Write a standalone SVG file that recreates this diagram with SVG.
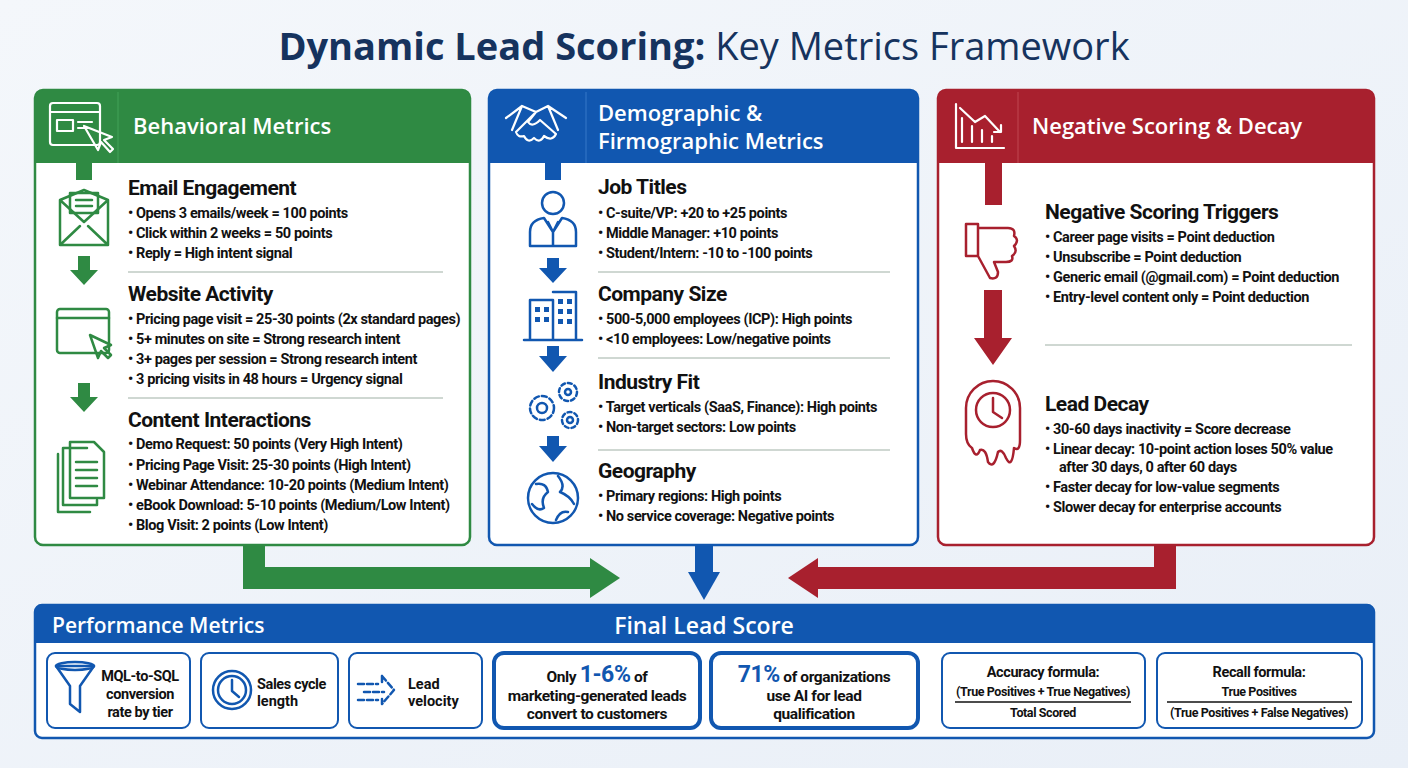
<svg xmlns="http://www.w3.org/2000/svg" width="1408" height="768" viewBox="0 0 1408 768">
<defs>
<linearGradient id="bg" x1="0" y1="0" x2="1" y2="1"><stop offset="0" stop-color="#f4f7fb"/><stop offset="1" stop-color="#e9eff7"/></linearGradient>
<style>
text{font-family:"Roboto","Liberation Sans",sans-serif;font-weight:bold;fill:#111}
.h{font-size:21px;letter-spacing:-0.5px}
.b{font-size:14.5px;letter-spacing:-0.4px}
.ph{font-family:"Open Sans","Liberation Sans",sans-serif;font-size:22px;fill:#fff;font-weight:600;letter-spacing:0}
.sep{stroke:#9fb0a5;stroke-width:1}
.gi{fill:none;stroke:#2f8a43;stroke-width:2.5;stroke-linejoin:round;stroke-linecap:round}
.bi{fill:none;stroke:#1157b0;stroke-width:2.5;stroke-linejoin:round;stroke-linecap:round}
.ri{fill:none;stroke:#a8202e;stroke-width:2.5;stroke-linejoin:round;stroke-linecap:round}
.wi{fill:none;stroke:#fff;stroke-width:2.2;stroke-linejoin:round;stroke-linecap:round}
.box{fill:#fff;stroke:#1157b0;stroke-width:2}
.tbox{fill:#fff;stroke:#1157b0;stroke-width:4}
.s{font-size:14.5px;text-anchor:middle;letter-spacing:-0.4px}
.f{font-size:12.5px;text-anchor:middle;letter-spacing:-0.4px}
</style>
</defs>
<rect width="1408" height="768" fill="url(#bg)"/>
<text x="704" y="60" text-anchor="middle" style="font-family:'Open Sans','Liberation Sans',sans-serif;font-size:38px;fill:#16335e"><tspan font-weight="bold">Dynamic Lead Scoring:</tspan><tspan font-weight="normal"> Key Metrics Framework</tspan></text>

<g id="connectors">
<path d="M254 545 V578 H592" fill="none" stroke="#2f8a43" stroke-width="22"/>
<polygon points="590,558 620,578 590,598" fill="#2f8a43"/>
<path d="M704 545 V575" fill="none" stroke="#1157b0" stroke-width="18"/>
<polygon points="688,572 720,572 704,600" fill="#1157b0"/>
<path d="M1165 545 V578 H816" fill="none" stroke="#a8202e" stroke-width="22"/>
<polygon points="818,558 788,578 818,598" fill="#a8202e"/>
</g>

<g id="behavioral">
<rect x="35" y="90" width="435" height="455" rx="8" fill="#fff" stroke="#2f8a43" stroke-width="2.5"/>
<path d="M35 98 a8 8 0 0 1 8 -8 H462 a8 8 0 0 1 8 8 V163 H35 Z" fill="#2f8a43"/>
<line x1="118" y1="92" x2="118" y2="163" stroke="#3c9a50" stroke-width="1.5"/>
<rect x="50" y="103" width="50" height="42" rx="3" class="wi"/><line x1="50" y1="112" x2="100" y2="112" class="wi"/>
<rect x="57" y="120" width="16" height="11" class="wi"/><line x1="78" y1="122" x2="92" y2="122" class="wi"/><line x1="78" y1="128" x2="88" y2="128" class="wi"/>
<path d="M84 126 L98 150 L101 142 L110 152 L113 149 L104 140 L112 137 Z" fill="#2f8a43" class="wi"/>
<text x="133" y="134" class="ph">Behavioral Metrics</text>
<rect x="76" y="163" width="16" height="17" fill="#2f8a43"/>
<path d="M60 200 L84 190 L108 200 V245 H60 Z M60 200 L84 222 L108 200 M60 245 L80 226 M108 245 L88 226" class="gi"/>
<rect x="70" y="193" width="28" height="20" fill="#fff" class="gi"/><line x1="76" y1="200" x2="92" y2="200" class="gi"/><line x1="76" y1="206" x2="92" y2="206" class="gi"/>
<path d="M78 256 H90 V270 H98 L84 285 L70 270 H78 Z" fill="#2f8a43"/>
<rect x="57" y="309" width="52" height="44" rx="3" class="gi"/><line x1="57" y1="318" x2="109" y2="318" class="gi"/>
<path d="M90 335 L98 358 L101 351 L108 358 L111 355 L104 348 L111 345 Z" fill="#fff" class="gi"/>
<path d="M78 383 H90 V397 H98 L84 412 L70 397 H78 Z" fill="#2f8a43"/>
<path d="M70 442 H94 L104 452 V498 H70 Z" fill="#fff" class="gi"/><path d="M63 448 H87 M63 448 V505 H97 V500" class="gi"/>
<path d="M58 454 V512 H90" class="gi"/>
<line x1="76" y1="462" x2="97" y2="462" class="gi"/><line x1="76" y1="470" x2="97" y2="470" class="gi"/><line x1="76" y1="478" x2="97" y2="478" class="gi"/><line x1="76" y1="486" x2="97" y2="486" class="gi"/>
<text x="128" y="195" class="h">Email Engagement</text>
<text x="128" y="218" class="b">•  Opens 3 emails/week = 100 points</text>
<text x="128" y="238" class="b">•  Click within 2 weeks = 50 points</text>
<text x="128" y="258" class="b">•  Reply = High intent signal</text>
<line x1="128" y1="272" x2="443" y2="272" class="sep"/>
<text x="128" y="301" class="h">Website Activity</text>
<text x="128" y="324" class="b">•  Pricing page visit = 25-30 points (2x standard pages)</text>
<text x="128" y="344" class="b">•  5+ minutes on site = Strong research intent</text>
<text x="128" y="364" class="b">•  3+ pages per session = Strong research intent</text>
<text x="128" y="384" class="b">•  3 pricing visits in 48 hours = Urgency signal</text>
<line x1="128" y1="398" x2="443" y2="398" class="sep"/>
<text x="128" y="427" class="h">Content Interactions</text>
<text x="128" y="449" class="b">•  Demo Request: 50 points (Very High Intent)</text>
<text x="128" y="470" class="b">•  Pricing Page Visit: 25-30 points (High Intent)</text>
<text x="128" y="490" class="b">•  Webinar Attendance: 10-20 points (Medium Intent)</text>
<text x="128" y="510" class="b">•  eBook Download: 5-10 points (Medium/Low Intent)</text>
<text x="128" y="530" class="b">•  Blog Visit: 2 points (Low Intent)</text>
</g>

<g id="demographic">
<rect x="489" y="90" width="429" height="455" rx="8" fill="#fff" stroke="#1157b0" stroke-width="2.5"/>
<path d="M489 98 a8 8 0 0 1 8 -8 H910 a8 8 0 0 1 8 8 V163 H489 Z" fill="#1157b0"/>
<line x1="586" y1="92" x2="586" y2="163" stroke="#2a6cc0" stroke-width="1.5"/>
<path d="M506 118 L522 106 L536 112 L548 106 L566 118 M522 106 L512 130 M548 106 L558 130 M536 112 L528 122 Q532 128 540 120 L556 134 Q552 142 544 136 Q540 144 534 138 Q528 144 524 136 Q518 138 516 132 Z" class="wi"/>
<text x="598" y="121" class="ph">Demographic &amp;</text>
<text x="598" y="149" class="ph">Firmographic Metrics</text>
<rect x="545" y="163" width="16" height="17" fill="#1157b0"/>
<circle cx="553" cy="203" r="11" class="bi"/><path d="M530 246 V232 Q530 220 544 218 L553 232 L562 218 Q576 220 576 232 V246 Z M553 232 V246 M548 222 L553 232 L558 222" class="bi"/>
<path d="M547 258 H559 V268 H567 L553 283 L539 268 H547 Z" fill="#1157b0"/>
<path d="M530 340 V300 H553 V340 M553 292 H576 V340 M524 340 H582" class="bi"/>
<g fill="#1157b0"><rect x="535" y="307" width="5" height="5"/><rect x="544" y="307" width="5" height="5"/><rect x="535" y="317" width="5" height="5"/><rect x="544" y="317" width="5" height="5"/><rect x="558" y="299" width="5" height="5"/><rect x="567" y="299" width="5" height="5"/><rect x="558" y="309" width="5" height="5"/><rect x="567" y="309" width="5" height="5"/><rect x="558" y="319" width="5" height="5"/><rect x="567" y="319" width="5" height="5"/></g>
<path d="M547 346 H559 V356 H567 L553 372 L539 356 H547 Z" fill="#1157b0"/>
<circle cx="542" cy="408" r="12" class="bi" stroke-dasharray="5 3"/><circle cx="542" cy="408" r="5" class="bi"/>
<circle cx="568" cy="392" r="9" class="bi" stroke-dasharray="4 3"/><circle cx="568" cy="392" r="3" class="bi"/>
<circle cx="570" cy="420" r="8" class="bi" stroke-dasharray="4 3"/><circle cx="570" cy="420" r="3" class="bi"/>
<path d="M547 436 H559 V446 H567 L553 462 L539 446 H547 Z" fill="#1157b0"/>
<circle cx="553" cy="498" r="25" class="bi"/><path d="M536 484 Q546 482 548 492 Q540 498 544 508 Q538 512 532 504 M558 476 Q566 486 560 492 Q570 496 574 504 M556 520 Q560 510 568 512" class="bi"/>
<text x="598" y="194" class="h">Job Titles</text>
<text x="598" y="218" class="b">•  C-suite/VP: +20 to +25 points</text>
<text x="598" y="238" class="b">•  Middle Manager: +10 points</text>
<text x="598" y="258" class="b">•  Student/Intern: -10 to -100 points</text>
<line x1="598" y1="272" x2="890" y2="272" class="sep"/>
<text x="598" y="301" class="h">Company Size</text>
<text x="598" y="324" class="b">•  500-5,000 employees (ICP): High points</text>
<text x="598" y="344" class="b">•  &lt;10 employees: Low/negative points</text>
<line x1="598" y1="358" x2="890" y2="358" class="sep"/>
<text x="598" y="389" class="h">Industry Fit</text>
<text x="598" y="412" class="b">•  Target verticals (SaaS, Finance): High points</text>
<text x="598" y="432" class="b">•  Non-target sectors: Low points</text>
<line x1="598" y1="450" x2="890" y2="450" class="sep"/>
<text x="598" y="478" class="h">Geography</text>
<text x="598" y="501" class="b">•  Primary regions: High points</text>
<text x="598" y="521" class="b">•  No service coverage: Negative points</text>
</g>

<g id="negative">
<rect x="938" y="90" width="436" height="455" rx="8" fill="#fff" stroke="#a8202e" stroke-width="2.5"/>
<path d="M938 98 a8 8 0 0 1 8 -8 H1366 a8 8 0 0 1 8 8 V163 H938 Z" fill="#a8202e"/>
<line x1="1018" y1="92" x2="1018" y2="163" stroke="#b83a46" stroke-width="1.5"/>
<path d="M956 104 V148 H1004 M962 118 V142 M972 126 V142 M982 130 V142 M992 136 V142 M960 108 L975 122 L985 116 L1000 132 M994 132 H1001 V125" class="wi"/>
<text x="1032" y="134" class="ph">Negative Scoring &amp; Decay</text>
<rect x="985" y="163" width="17" height="42" fill="#a8202e"/>
<path d="M966 224 H978 V256 H966 Z M978 228 H1008 Q1016 228 1014 236 Q1020 240 1014 246 Q1018 252 1012 256 Q1014 262 1006 262 H994 L998 272 Q998 280 990 278 L978 256" class="ri"/>
<path d="M984 290 H1002 V338 H1012 L993 365 L974 338 H984 Z" fill="#a8202e"/>
<path d="M966 408 A27 27 0 0 1 1020 408 V440 Q1020 452 1014 448 Q1012 470 1006 458 Q1002 448 998 452 Q994 470 988 462 Q986 448 980 450 Q976 460 972 448 Q966 444 966 434 Z" class="ri"/>
<circle cx="993" cy="410" r="17" class="ri"/><path d="M993 398 V412 L1002 418" class="ri"/>
<text x="1045" y="219" class="h">Negative Scoring Triggers</text>
<text x="1045" y="242" class="b">•  Career page visits = Point deduction</text>
<text x="1045" y="262" class="b">•  Unsubscribe = Point deduction</text>
<text x="1045" y="282" class="b">•  Generic email (@gmail.com) = Point deduction</text>
<text x="1045" y="302" class="b">•  Entry-level content only = Point deduction</text>
<line x1="1045" y1="345" x2="1352" y2="345" class="sep"/>
<text x="1045" y="411" class="h">Lead Decay</text>
<text x="1045" y="434" class="b">•  30-60 days inactivity = Score decrease</text>
<text x="1045" y="454" class="b">•  Linear decay: 10-point action loses 50% value</text>
<text x="1059" y="472" class="b">after 30 days, 0 after 60 days</text>
<text x="1045" y="492" class="b">•  Faster decay for low-value segments</text>
<text x="1045" y="512" class="b">•  Slower decay for enterprise accounts</text>
</g>

<g id="final">
<rect x="35" y="605" width="1339" height="133" rx="7" fill="#fff" stroke="#1157b0" stroke-width="2.5"/>
<path d="M35 612 a7 7 0 0 1 7 -7 H1367 a7 7 0 0 1 7 7 V643 H35 Z" fill="#1157b0"/>
<text x="52" y="633" class="ph" style="font-size:21px">Performance Metrics</text>
<text x="704" y="634" class="ph" text-anchor="middle" style="font-size:23px">Final Lead Score</text>
<rect x="47" y="653" width="143" height="75" rx="8" class="box"/>
<path d="M56 666 H94 L80 686 V712 L70 704 V686 Z" class="bi"/><ellipse cx="75" cy="666" rx="19" ry="4" class="bi"/>
<text x="140" y="681" class="s">MQL-to-SQL</text><text x="140" y="699" class="s">conversion</text><text x="140" y="717" class="s">rate by tier</text>
<rect x="201" y="653" width="137" height="75" rx="8" class="box"/>
<circle cx="232" cy="690" r="19" class="bi"/><circle cx="232" cy="690" r="14" class="bi"/><path d="M232 680 V691 L239 697" class="bi"/>
<text x="257" y="689" style="font-size:14.5px;letter-spacing:-0.4px">Sales cycle</text><text x="257" y="706" style="font-size:14.5px">length</text>
<rect x="349" y="653" width="133" height="75" rx="8" class="box"/>
<path d="M358 684 H378 M364 692 H384 M358 700 H378 M382 676 L394 690 L382 704 V698 M382 682 V676" class="bi" stroke-dasharray="6 3"/>
<text x="408" y="689" style="font-size:14.5px">Lead</text><text x="408" y="706" style="font-size:14.5px">velocity</text>
<rect x="494" y="653" width="206" height="75" rx="10" class="tbox"/>
<text x="597" y="682" class="s" style="font-size:15.5px">Only <tspan style="font-size:23px;fill:#1157b0">1-6%</tspan> of</text>
<text x="597" y="701" class="s" style="font-size:15.5px">marketing-generated leads</text>
<text x="597" y="719" class="s" style="font-size:15.5px">convert to customers</text>
<rect x="711" y="653" width="207" height="75" rx="10" class="tbox"/>
<text x="814" y="682" class="s" style="font-size:15.5px"><tspan style="font-size:23px;fill:#1157b0">71%</tspan> of organizations</text>
<text x="814" y="701" class="s" style="font-size:15.5px">use AI for lead</text>
<text x="814" y="719" class="s" style="font-size:15.5px">qualification</text>
<rect x="942" y="653" width="203" height="75" rx="8" class="box"/>
<text x="1043" y="677" class="s">Accuracy formula:</text>
<text x="1043" y="696" class="f">(True Positives + True Negatives)</text>
<line x1="955" y1="702" x2="1131" y2="702" stroke="#111" stroke-width="1.3"/>
<text x="1043" y="717" class="f">Total Scored</text>
<rect x="1157" y="653" width="205" height="75" rx="8" class="box"/>
<text x="1259" y="677" class="s">Recall formula:</text>
<text x="1259" y="696" class="f">True Positives</text>
<line x1="1167" y1="702" x2="1352" y2="702" stroke="#111" stroke-width="1.3"/>
<text x="1259" y="717" class="f">(True Positives + False Negatives)</text>
</g>
</svg>
